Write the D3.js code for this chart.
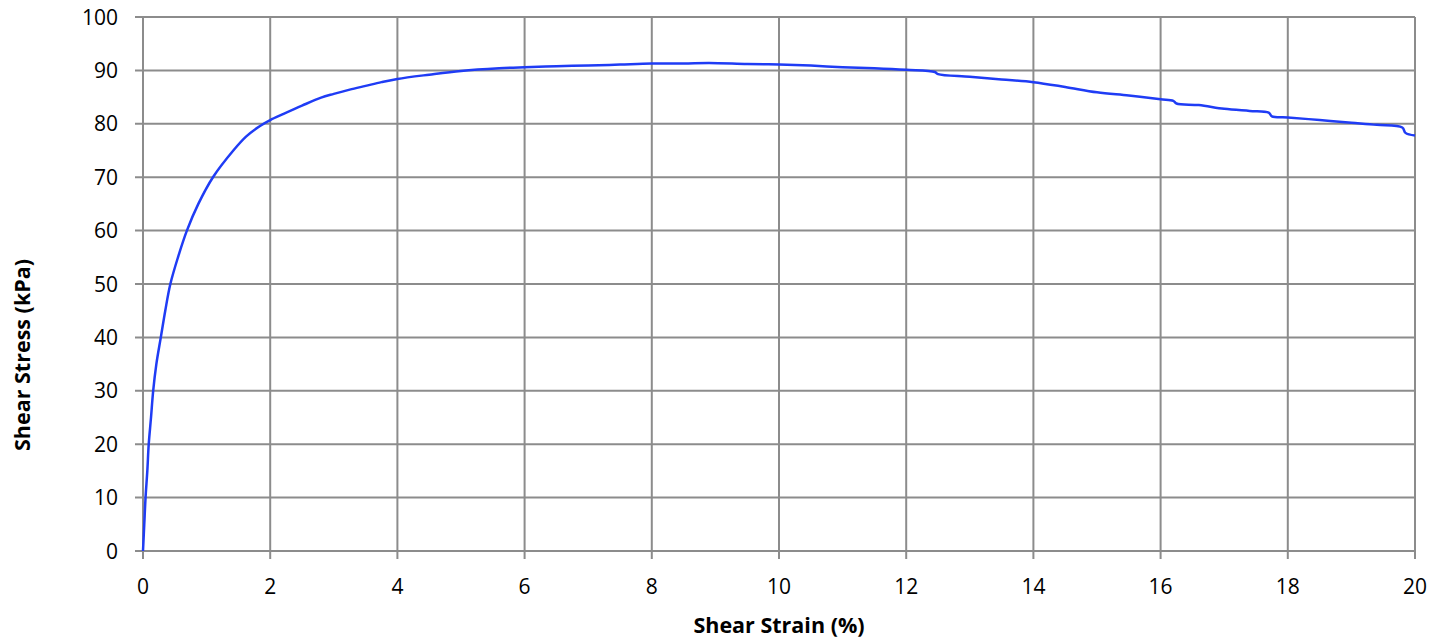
<!DOCTYPE html>
<html>
<head>
<meta charset="utf-8">
<script src="https://cdn.jsdelivr.net/npm/d3@7"></script>
<style>
	body{ margin:0; background:#fff; }
	svg text{ font-family:"Open Sans", "Noto Sans", sans-serif; fill:#000; }
	.grid line{ stroke:#8c8c8c; stroke-width:2; }
</style>
</head>
<body>
<svg id="vis" width="1447" height="639"></svg>
<script>
// shear strain (%)
var strain = [0, 0.02, 0.04, 0.068, 0.09, 0.126, 0.16, 0.21, 0.28, 0.35, 0.43, 0.55, 0.69, 0.87, 1.1, 1.42, 1.62, 1.84, 2.0, 2.2, 2.5, 2.8, 3.0, 3.25, 3.5, 3.75, 4.0, 4.5, 5.0, 5.6, 6.0, 6.5, 7.0, 7.5, 8.0, 8.5, 8.9, 9.5, 10.0, 10.5, 11.0, 11.5, 12.0, 12.45, 12.5, 13.0, 13.5, 14.0, 14.5, 15.0, 15.5, 16.0, 16.2, 16.25, 16.6, 17.0, 17.4, 17.7, 17.75, 18.0, 18.5, 19.0, 19.4, 19.8, 19.85, 20.0];
// shear stress (kPa)
var stress = [0, 5, 10, 15, 20, 25, 30, 35, 40, 45, 50, 55, 60, 65, 70, 75, 77.6, 79.6, 80.7, 81.8, 83.4, 84.9, 85.6, 86.4, 87.1, 87.8, 88.4, 89.2, 89.9, 90.4, 90.6, 90.8, 90.9, 91.1, 91.3, 91.3, 91.4, 91.2, 91.1, 90.9, 90.6, 90.4, 90.1, 89.7, 89.3, 88.8, 88.3, 87.8, 86.9, 85.9, 85.3, 84.6, 84.3, 83.8, 83.5, 82.8, 82.4, 82.1, 81.4, 81.2, 80.7, 80.2, 79.8, 79.3, 78.3, 77.8];

var xTicks = [0, 2, 4, 6, 8, 10, 12, 14, 16, 18, 20];
var yTicks = [0, 10, 20, 30, 40, 50, 60, 70, 80, 90, 100];

var xTitle = 'Shear Strain (%)';
var yTitle = 'Shear Stress (kPa)';

var chart = {
	left:143,
	right:1415,
	top:17,
	bottom:551,

	draw:function(){
		var self = this;
		var svg = d3.select('#vis');

		var x = d3.scaleLinear().domain([0, 20]).range([self.left, self.right]);
		var y = d3.scaleLinear().domain([0, 100]).range([self.bottom, self.top]);

		// horizontal grid + tick stubs
		var gy = svg.append('g').classed('grid', true);
		gy.selectAll('line')
			.data(yTicks)
			.enter().append('line')
			.attr('x1', self.left - 8)
			.attr('x2', self.right)
			.attr('y1', function(d){ return y(d); })
			.attr('y2', function(d){ return y(d); });

		// vertical grid + tick stubs
		var gx = svg.append('g').classed('grid', true);
		gx.selectAll('line')
			.data(xTicks)
			.enter().append('line')
			.attr('y1', self.top)
			.attr('y2', self.bottom + 8)
			.attr('x1', function(d){ return x(d); })
			.attr('x2', function(d){ return x(d); });

		// tick labels
		svg.append('g').selectAll('text')
			.data(yTicks)
			.enter().append('text')
			.attr('x', self.left - 25)
			.attr('y', function(d){ return y(d); })
			.attr('dy', '0.36em')
			.attr('text-anchor', 'end')
			.style('font-size', '21px')
			.text(function(d){ return d; });

		svg.append('g').selectAll('text')
			.data(xTicks)
			.enter().append('text')
			.attr('x', function(d){ return x(d); })
			.attr('y', 586)
			.attr('dy', '0.36em')
			.attr('text-anchor', 'middle')
			.style('font-size', '21px')
			.text(function(d){ return d; });

		// axis titles
		svg.append('text')
			.attr('x', 779)
			.attr('y', 625)
			.attr('dy', '0.36em')
			.attr('text-anchor', 'middle')
			.style('font-size', '21.5px')
			.style('font-weight', 'bold')
			.text(xTitle);

		svg.append('text')
			.attr('transform', 'translate(22,355) rotate(-90)')
			.attr('dy', '0.36em')
			.attr('text-anchor', 'middle')
			.style('font-size', '21.5px')
			.style('font-weight', 'bold')
			.text(yTitle);

		var pts = strain.map(function(s, i){ return [s, stress[i]]; });
		var line = d3.line()
			.x(function(d){ return x(d[0]); })
			.y(function(d){ return y(d[1]); })
			.curve(d3.curveCatmullRom.alpha(0.5));

		svg.append('path')
			.datum(pts)
			.attr('d', line)
			.attr('fill', 'none')
			.attr('stroke', '#1f3cf5')
			.attr('stroke-width', 2.5);
	}
};
chart.draw();
</script>
</body>
</html>
